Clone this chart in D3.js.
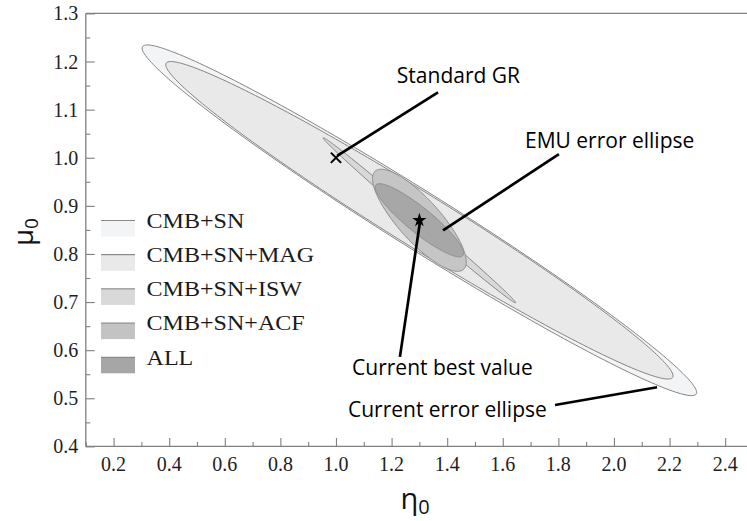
<!DOCTYPE html>
<html><head><meta charset="utf-8">
<script src="https://cdn.jsdelivr.net/npm/d3@7"></script>
<style>body{margin:0;background:#fff}</style>
</head><body><svg id="c" width="747" height="521"></svg>
<script>
// ---- data ----
const seriesNames = ["CMB+SN", "CMB+SN+MAG", "CMB+SN+ISW", "CMB+SN+ACF", "ALL"];
const centerEta = [1.30, 1.30, 1.30, 1.30, 1.30];
const centerMu  = [0.87, 0.87, 0.87, 0.87, 0.87];
// half-axis vectors of each confidence ellipse, in data units
const majorEta = [0.996, 0.911, 0.346, 0.159, 0.1565];
const majorMu  = [-0.361, -0.3265, -0.1714, -0.102, -0.0733];
const minorEta = [-0.0545, -0.0512, -0.0094, -0.0561, -0.0283];
const minorMu  = [-0.0502, -0.0477, -0.0063, -0.0292, -0.0202];
const fills = ["#f2f4f6", "#e9e9e9", "#d8d8d8", "#c5c5c5", "#a7a7a7"];
const legendFills = ["#f2f4f6", "#e9e9e9", "#d9d9d9", "#c3c3c3", "#a6a6a6"];
const xTicks = [0.2, 0.4, 0.6, 0.8, 1.0, 1.2, 1.4, 1.6, 1.8, 2.0, 2.2, 2.4];
const yTicks = [0.4, 0.5, 0.6, 0.7, 0.8, 0.9, 1.0, 1.1, 1.2, 1.3];
const grPoint = [1.0, 1.0];
const bestPoint = [1.3, 0.87];
const annTexts = ["Standard GR", "EMU error ellipse", "Current best value", "Current error ellipse"];
const annTextEta = [1.219, 1.680, 1.058, 1.043];
const annTextMu  = [1.155, 1.020, 0.548, 0.461];
const annFromEta = [1.367, 1.802, 1.230, 1.788];
const annFromMu  = [1.136, 1.0075, 0.586, 0.486];
const annToEta   = [1.004, 1.385, 1.302, 2.155];
const annToMu    = [1.004, 0.849, 0.866, 0.523];

// ---- layout ----
const svg = d3.select("#c");
const x = d3.scaleLinear().domain([0.1, 2.48]).range([85.8, 747.4]);
const y = d3.scaleLinear().domain([0.4, 1.3]).range([446.4, 13.4]);
const axisColor = "#808080";
const serif = "'Liberation Serif','Times New Roman',serif";
const sans = "'Open Sans','Noto Sans',sans-serif";

// ellipses
const N = 240;
const line = d3.line().x(d => x(d[0])).y(d => y(d[1])).curve(d3.curveLinearClosed);
seriesNames.forEach((s, i) => {
  const pts = d3.range(N).map(k => {
    const t = 2 * Math.PI * k / N;
    return [centerEta[i] + Math.cos(t) * majorEta[i] + Math.sin(t) * minorEta[i],
            centerMu[i] + Math.cos(t) * majorMu[i] + Math.sin(t) * minorMu[i]];
  });
  svg.append("path").attr("d", line(pts))
    .attr("fill", fills[i]).attr("stroke", i < 3 ? "#858585" : "#8c8c8c")
    .attr("stroke-width", 1);
});

// axes
const gx = svg.append("g").attr("transform", `translate(0,${y(0.4)})`);
gx.call(d3.axisTop(x).tickValues(d3.range(0.1, 2.45, 0.1)).tickSize(4.5).tickFormat(""));
gx.call(g => g.selectAll(".tick line").filter(d => Math.abs(Math.round(d * 5) - d * 5) < 1e-6).attr("y2", -8.5));
gx.select(".domain").remove();
gx.append("line").attr("x1", x(0.1)).attr("x2", 747).attr("stroke", axisColor).attr("stroke-width", 1.3);
gx.selectAll(".tick line").attr("stroke", axisColor).attr("stroke-width", 1.1);
gx.selectAll(".lbl").data(xTicks).enter().append("text")
  .attr("x", d => x(d)).attr("y", 24.8).attr("text-anchor", "middle")
  .attr("font-family", serif).attr("font-size", 20).attr("fill", "#1e1e1e")
  .text(d => d.toFixed(1));

const gy = svg.append("g").attr("transform", `translate(${x(0.1)},0)`);
gy.call(d3.axisRight(y).tickValues(d3.range(0.4, 1.3001, 0.05)).tickSize(4.5).tickFormat(""));
gy.call(g => g.selectAll(".tick line").filter(d => Math.abs(Math.round(d * 10) - d * 10) < 1e-6).attr("x2", 9));
gy.select(".domain").remove();
gy.append("line").attr("y1", y(0.4)).attr("y2", y(1.3)).attr("stroke", axisColor).attr("stroke-width", 1.3);
gy.selectAll(".tick line").attr("stroke", axisColor).attr("stroke-width", 1.1);
gy.selectAll(".lbl").data(yTicks).enter().append("text")
  .attr("x", -7.5).attr("y", d => y(d) + 7).attr("text-anchor", "end")
  .attr("font-family", serif).attr("font-size", 20).attr("fill", "#1e1e1e")
  .text(d => d.toFixed(1));

// top frame
svg.append("line").attr("x1", x(0.1)).attr("x2", 747).attr("y1", y(1.3)).attr("y2", y(1.3))
  .attr("stroke", axisColor).attr("stroke-width", 1.3);

// axis titles
const xt = svg.append("text").attr("x", 415).attr("y", 509).attr("text-anchor", "middle")
  .attr("font-family", sans).attr("font-size", 29).attr("fill", "#111");
xt.append("tspan").text("η");
xt.append("tspan").attr("font-size", 20).attr("dy", 5).text("0");
const yt = svg.append("text").attr("transform", "translate(33,232) rotate(-90)").attr("text-anchor", "middle")
  .attr("font-family", sans).attr("font-size", 27).attr("fill", "#111");
yt.append("tspan").text("μ");
yt.append("tspan").attr("font-size", 19).attr("dy", 5).text("0");

// legend
const lg = svg.append("g").attr("transform", "translate(101,220)");
seriesNames.forEach((s, i) => {
  const g = lg.append("g").attr("transform", `translate(0,${i * 34.2})`);
  g.append("rect").attr("x", 0).attr("y", 1).attr("width", 34).attr("height", 15.5).attr("fill", legendFills[i]);
  g.append("line").attr("x1", 0).attr("x2", 34).attr("y1", 0.5).attr("y2", 0.5)
    .attr("stroke", "#8a8a8a").attr("stroke-width", 1.2);
  g.append("text").attr("transform", "translate(45.5,7.8) scale(1.12,1)")
    .attr("font-family", serif).attr("font-size", 21.5).attr("fill", "#1a1a1a").text(s);
});

// annotation lines
annTexts.forEach((t, i) => {
  svg.append("line").attr("x1", x(annFromEta[i])).attr("y1", y(annFromMu[i]))
    .attr("x2", x(annToEta[i])).attr("y2", y(annToMu[i]))
    .attr("stroke", "#000").attr("stroke-width", 2.7).attr("stroke-linecap", "butt");
  svg.append("text").attr("x", x(annTextEta[i])).attr("y", y(annTextMu[i]))
    .attr("font-family", sans).attr("font-size", 21).attr("fill", "#000").text(t);
});

// markers
svg.append("path").attr("d", d3.symbol().type(d3.symbolTimes).size(70)())
  .attr("transform", `translate(${x(grPoint[0])},${y(grPoint[1])})`)
  .attr("fill", "none").attr("stroke", "#000").attr("stroke-width", 2);
svg.append("path").attr("d", d3.symbol().type(d3.symbolStar).size(62)())
  .attr("transform", `translate(${x(bestPoint[0])},${y(bestPoint[1])})`)
  .attr("fill", "#000");
</script></body></html>
